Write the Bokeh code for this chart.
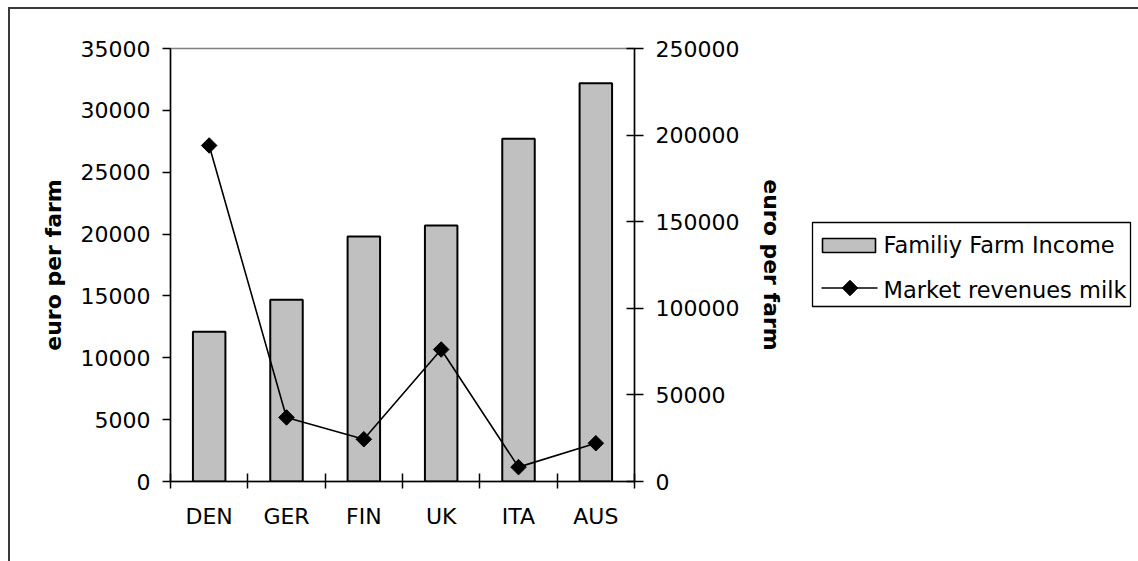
import math

from bokeh.core.properties import value
from bokeh.embed import file_html
from bokeh.layouts import row
from bokeh.models import (ColumnDataSource, CustomJSTickFormatter,
                          FixedTicker, LinearAxis, NumeralTickFormatter,
                          Range1d)
from bokeh.plotting import figure
from bokeh.resources import INLINE

# ---- data -----------------------------------------------------------------
categories = ["DEN", "GER", "FIN", "UK", "ITA", "AUS"]
family_farm_income = [12100, 14700, 19800, 20700, 27700, 32200]
market_revenues_milk = [194000, 37000, 24400, 76200, 8300, 22100]

income_ticks = [0, 5000, 10000, 15000, 20000, 25000, 30000, 35000]
revenue_ticks = [0, 50000, 100000, 150000, 200000, 250000]

series_names = ["Familiy Farm Income", "Market revenues milk"]
axis_title = "euro per farm"

# ---- styling --------------------------------------------------------------
FONT = "DejaVu Sans"
FONT_SIZE = "22px"
BAR_FILL = "#c0c0c0"
MARKER_SIZE = 11

# the chart sits in a box framed on its left and top edges
BOX_LEFT, BOX_TOP, BOX_LINE = 8, 7, 2
PAGE_W, PAGE_H = 1138, 561
CHART_H = PAGE_H - BOX_TOP - BOX_LINE
MAIN_W = 800                                   # plot + both axes
KEY_W = PAGE_W - BOX_LEFT - BOX_LINE - MAIN_W  # legend strip

FRAME_W, FRAME_H = 464, 433
BORDER_TOP = 39
BORDER_BOTTOM = CHART_H - BORDER_TOP - FRAME_H

# categories sit at the middle of unit-wide slots, slot edges carry the ticks
slot_centers = [i + 0.5 for i in range(len(categories))]
slot_edges = list(range(len(categories) + 1))

src = ColumnDataSource(dict(
    x=slot_centers,
    cat=categories,
    income=family_farm_income,
    revenue=market_revenues_milk,
))

p = figure(
    width=MAIN_W, height=CHART_H,
    x_range=Range1d(0, len(categories)),
    y_range=Range1d(income_ticks[0], income_ticks[-1]),
    output_backend="svg", toolbar_location=None,
    min_border_left=160, min_border_right=MAIN_W - 160 - FRAME_W,
    min_border_top=BORDER_TOP, min_border_bottom=BORDER_BOTTOM,
)
p.extra_y_ranges = {"rev": Range1d(revenue_ticks[0], revenue_ticks[-1])}
p.grid.visible = False
p.background_fill_color = "white"
p.border_fill_color = "white"
p.outline_line_color = "#808080"
p.outline_line_width = 1.5


def style_axis(ax):
    ax.axis_line_color = "black"
    ax.axis_line_width = 1.5
    ax.major_tick_line_color = "black"
    ax.major_tick_line_width = 1.5
    ax.minor_tick_line_color = "black"
    ax.minor_tick_line_width = 1.5
    ax.major_label_text_font = FONT
    ax.major_label_text_font_size = FONT_SIZE
    ax.major_label_text_color = "black"
    ax.axis_label_text_font = FONT
    ax.axis_label_text_font_size = FONT_SIZE
    ax.axis_label_text_font_style = "bold"
    ax.axis_label_text_color = "black"


# bottom axis: names centred in their slots, ticks on the slot edges
xax = p.xaxis[0]
style_axis(xax)
xax.ticker = FixedTicker(ticks=slot_centers, minor_ticks=slot_edges)
xax.formatter = CustomJSTickFormatter(
    args=dict(cats=categories),
    code="return cats[Math.round(tick - 0.5)] || '';",
)
xax.major_tick_in = 0
xax.major_tick_out = 0
xax.minor_tick_in = 8
xax.minor_tick_out = 7
xax.major_label_standoff = 15

# left axis: family farm income
yax = p.yaxis[0]
style_axis(yax)
yax.ticker = FixedTicker(ticks=income_ticks, minor_ticks=[])
yax.formatter = NumeralTickFormatter(format="0")
yax.major_tick_in = 0
yax.major_tick_out = 8
yax.major_label_standoff = 12
yax.axis_label = axis_title
yax.axis_label_standoff = 12

# right axis: market revenues
rax = LinearAxis(y_range_name="rev")
style_axis(rax)
rax.ticker = FixedTicker(ticks=revenue_ticks, minor_ticks=[])
rax.formatter = NumeralTickFormatter(format="0")
rax.major_tick_in = 8
rax.major_tick_out = 9
rax.major_label_standoff = 12
rax.axis_label = axis_title
rax.axis_label_standoff = 17
p.add_layout(rax, "right")

# ---- marks ----------------------------------------------------------------
p.vbar(x="x", top="income", bottom=0, width=0.42, source=src,
       fill_color=BAR_FILL, line_color="black", line_width=2)

p.line(x="x", y="revenue", source=src, y_range_name="rev",
       line_color="black", line_width=1.6)
p.scatter(x="x", y="revenue", source=src, y_range_name="rev",
          marker="square", angle=math.pi / 4, size=MARKER_SIZE,
          fill_color="black", line_color="black")

# ---- legend strip ----------------------------------------------------------
# Its frame lines up with the main frame; coordinates are pixels measured
# from the top-left corner of the chart box, y pointing down.
key = figure(
    width=KEY_W, height=CHART_H,
    x_range=Range1d(0, KEY_W),
    y_range=Range1d(BORDER_TOP + FRAME_H, BORDER_TOP),
    x_axis_type=None, y_axis_type=None,
    output_backend="svg", toolbar_location=None,
    min_border_left=0, min_border_right=0,
    min_border_top=BORDER_TOP, min_border_bottom=BORDER_BOTTOM,
)
key.grid.visible = False
key.outline_line_color = None
key.background_fill_color = "white"
key.border_fill_color = "white"

KEY_FONT_SIZE = "22.5px"
key.quad(left=[2], right=[320], top=[213], bottom=[297],
         fill_color="white", line_color="black", line_width=1.3)

# bar entry
key.quad(left=[12], right=[65], top=[229], bottom=[243],
         fill_color=BAR_FILL, line_color="black", line_width=1.6)
# line + marker entry
key.line(x=[11, 67], y=[278.5, 278.5], line_color="black", line_width=1.6)
key.scatter(x=[39.5], y=[278.5], marker="square", angle=math.pi / 4,
            size=MARKER_SIZE, fill_color="black", line_color="black")

key.text(x=[73, 73], y=[235, 280], text=series_names,
         text_font=value(FONT), text_font_size=KEY_FONT_SIZE,
         text_color="black", text_baseline="alphabetic", text_align="left")

layout = row(p, key)
layout.styles = {
    "margin-left": f"{BOX_LEFT}px",
    "margin-top": f"{BOX_TOP}px",
    "border-left": f"{BOX_LINE}px solid #3a3a3a",
    "border-top": f"{BOX_LINE}px solid #3a3a3a",
}

open("out.html", "w").write(file_html(layout, INLINE))
